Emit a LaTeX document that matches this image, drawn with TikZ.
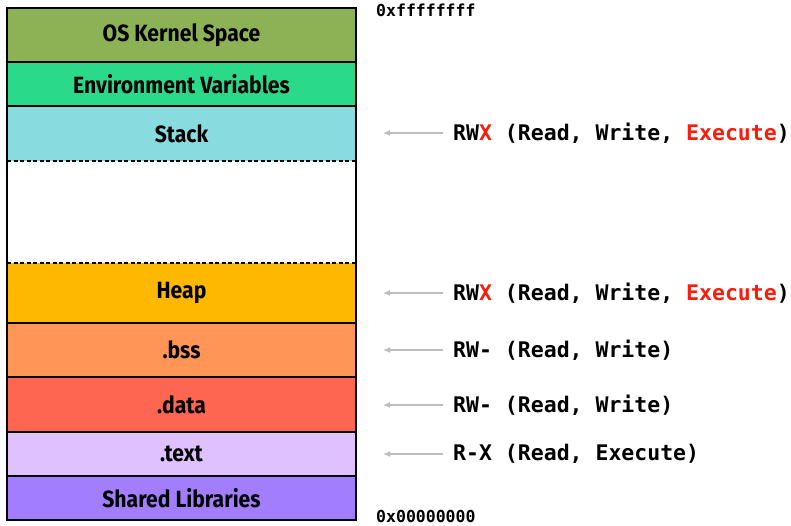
\documentclass[tikz,border=0pt]{standalone}
\usepackage{fontspec}
\usetikzlibrary{arrows.meta}
\newfontfamily\labfont{Fira Sans}[FakeStretch=0.9]
\newfontfamily\monofont{DejaVu Sans Mono}
\definecolor{ckernel}{HTML}{8DB255}
\definecolor{cenv}{HTML}{2BD98A}
\definecolor{cstack}{HTML}{88DCDF}
\definecolor{cheap}{HTML}{FFB800}
\definecolor{cbss}{HTML}{FF9557}
\definecolor{cdata}{HTML}{FF6651}
\definecolor{ctext}{HTML}{DFC1FF}
\definecolor{cshared}{HTML}{A27EFF}
\definecolor{cred}{HTML}{FF1A0A}
\definecolor{carrow}{HTML}{BDBDBD}
\begin{document}
\begin{tikzpicture}[x=1pt,y=1pt,
  band/.style={minimum width=349pt,inner sep=0pt,outer sep=0pt,
    font=\labfont\bfseries\fontsize{23.5}{26}\selectfont},
  perm/.style={anchor=west,inner sep=0pt,font=\monofont\bfseries\fontsize{21.5}{25}\selectfont},
  addr/.style={anchor=west,inner sep=0pt,font=\monofont\bfseries\fontsize{16.5}{20}\selectfont},
  arr/.style={draw=carrow,line width=1.2pt,-{Latex[length=7pt,width=6pt]}},
  sep/.style={line width=1.4pt},
  dsep/.style={line width=1.4pt,dash pattern=on 4pt off 2.5pt}]
\useasboundingbox (0,0) rectangle (791,-526);
\node[band,fill=ckernel,minimum height=54pt] (kernel) at (181.5,-35) {OS Kernel Space};
\node[band,fill=cenv,minimum height=44pt] (env) at (181.5,-84) {Environment Variables};
\node[band,fill=cstack,minimum height=55pt] (stack) at (181.5,-133.5) {Stack};
\node[band,fill=white,minimum height=102pt] (gap) at (181.5,-212) {};
\node[band,fill=cheap,minimum height=60pt] (heap) at (181.5,-293) {Heap};
\node[band,fill=cbss,minimum height=54pt] (bss) at (181.5,-350) {.bss};
\node[band,fill=cdata,minimum height=55pt] (data) at (181.5,-404.5) {.data};
\node[band,fill=ctext,minimum height=44pt] (text) at (181.5,-454) {.text};
\node[band,fill=cshared,minimum height=44pt] (shared) at (181.5,-498) {Shared Libraries};
% separators
\draw[sep] (kernel.south west) -- (kernel.south east);
\draw[sep] (env.south west) -- (env.south east);
\draw[dsep] (stack.south west) -- (stack.south east);
\draw[dsep] (heap.north west) -- (heap.north east);
\draw[sep] (heap.south west) -- (heap.south east);
\draw[sep] (bss.south west) -- (bss.south east);
\draw[sep] (data.south west) -- (data.south east);
\draw[sep] (text.south west) -- (text.south east);
\draw[sep] (kernel.north west) rectangle (shared.south east);
% addresses
\node[addr] (top) at (376,-10) {0xffffffff};
\node[addr] (bot) at (376,-516) {0x00000000};
% permissions
\node[perm] (p1) at (453,-133) {RW\textcolor{cred}{X} (Read, Write, \textcolor{cred}{Execute})};
\node[perm] (p2) at (453,-293) {RW\textcolor{cred}{X} (Read, Write, \textcolor{cred}{Execute})};
\node[perm] (p3) at (453,-350) {RW- (Read, Write)};
\node[perm] (p4) at (453,-405) {RW- (Read, Write)};
\node[perm] (p5) at (453,-454) {R-X (Read, Execute)};
\foreach \p in {p1,p2,p3,p4,p5}{
  \draw[arr] ([xshift=-10pt]\p.west) -- ++(-60,0);
}
\end{tikzpicture}
\end{document}
